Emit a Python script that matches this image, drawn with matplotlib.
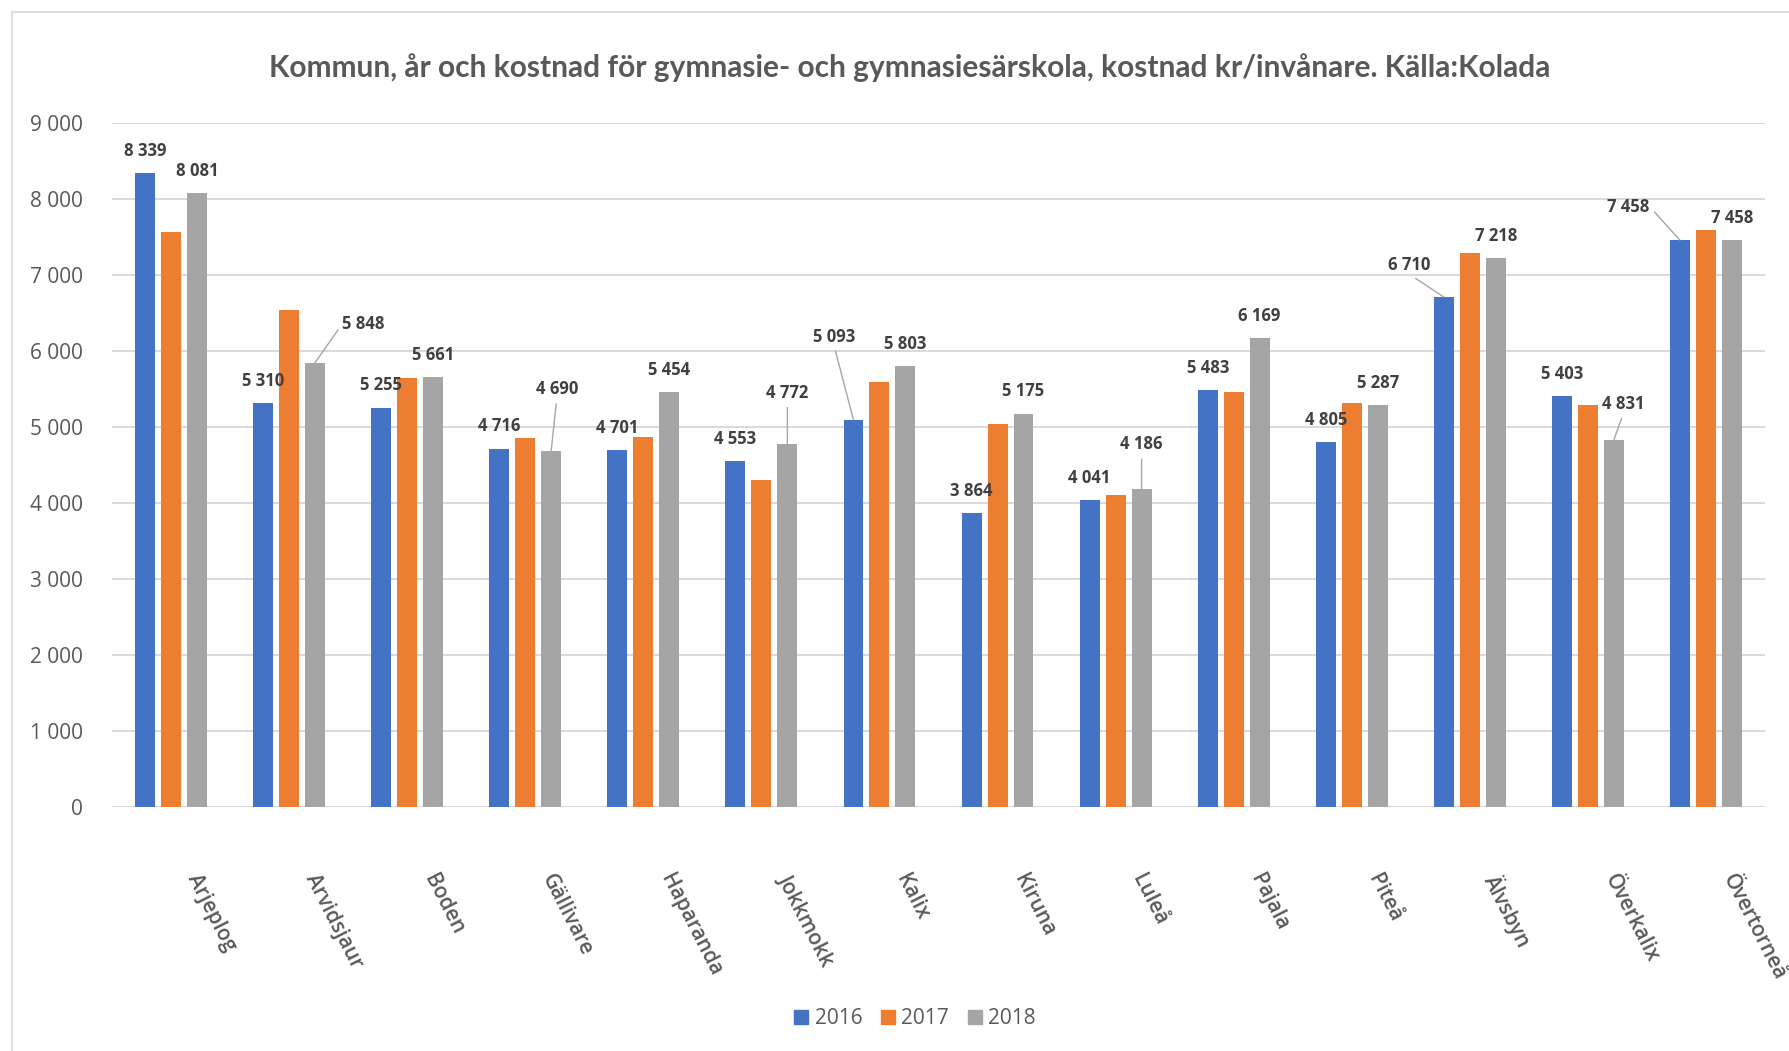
import matplotlib
matplotlib.use("Agg")
import matplotlib.pyplot as plt
from matplotlib.patches import Patch
from matplotlib.lines import Line2D
from matplotlib.transforms import ScaledTranslation
import numpy as np

# data
kommuner = ["Arjeplog", "Arvidsjaur", "Boden", "Gällivare", "Haparanda", "Jokkmokk", "Kalix",
            "Kiruna", "Luleå", "Pajala", "Piteå", "Älvsbyn", "Överkalix", "Övertorneå"]
ar = ["2016", "2017", "2018"]
kostnad_2016 = [8339, 5310, 5255, 4716, 4701, 4553, 5093, 3864, 4041, 5483, 4805, 6710, 5403, 7458]
kostnad_2017 = [7570, 6540, 5650, 4860, 4870, 4300, 5590, 5040, 4110, 5460, 5310, 7290, 5290, 7590]
kostnad_2018 = [8081, 5848, 5661, 4690, 5454, 4772, 5803, 5175, 4186, 6169, 5287, 7218, 4831, 7458]
yticks = [0, 1000, 2000, 3000, 4000, 5000, 6000, 7000, 8000, 9000]

farger = ["#4472C4", "#ED7D31", "#A5A5A5"]
serier = [kostnad_2016, kostnad_2017, kostnad_2018]

# labels moved off the bar, with a leader line: (serie, index) -> (dx pt, dy pt, relpos)
flyttade = {
    (2, 1): (35, 28, (0, 0.5)),
    (2, 3): (4, 44, (0.5, 0)),
    (2, 5): (0, 37, (0.5, 0)),
    (0, 6): (-14, 60, (0.5, 0)),
    (2, 8): (0, 32, (0.5, 0)),
    (0, 11): (-25, 23, (0.5, 0)),
    (2, 12): (7, 26, (0.5, 0)),
    (0, 13): (-37, 24, (1, 0.5)),
}


def fmt(v):
    return f"{v:,}".replace(",", " ")


fig = plt.figure(figsize=(17.9, 10.51), dpi=100)
ax = fig.add_axes([112 / 1790, 1 - 807 / 1051, (1765 - 112) / 1790, (807 - 123) / 1051])

x = np.arange(len(kommuner))
steg = 0.22
bredd = 0.169
for k, (vals, farg) in enumerate(zip(serier, farger)):
    pos = x + (k - 1) * steg
    ax.bar(pos, vals, width=bredd, color=farg, label=ar[k], zorder=2)
    if k == 1:
        continue  # 2017 has no data labels
    for i, v in enumerate(vals):
        if (k, i) in flyttade:
            dx, dy, rp = flyttade[(k, i)]
            ax.annotate(fmt(v), xy=(pos[i], v), xytext=(dx, dy), textcoords="offset points",
                        ha="center", va="center", fontsize=12, fontweight="bold",
                        family="Open Sans", color="#404040",
                        arrowprops=dict(arrowstyle="-", color="#a6a6a6", lw=1,
                                        shrinkA=2, shrinkB=0, relpos=rp))
        else:
            ax.annotate(fmt(v), xy=(pos[i], v), xytext=(0, 16), textcoords="offset points",
                        ha="center", va="center", fontsize=12, fontweight="bold",
                        family="Open Sans", color="#404040")

ax.set_xlim(-0.5, len(kommuner) - 0.5)
ax.set_ylim(0, 9000)
ax.set_yticks(yticks)
ax.set_yticklabels([fmt(t) for t in yticks], fontsize=15, family="Open Sans", color="#595959")
ax.tick_params(axis="y", length=0, pad=21)
ax.set_xticks(x)
ax.set_xticklabels(kommuner, rotation=-63, ha="left", va="top", rotation_mode="anchor",
                   fontsize=15, family="Open Sans", fontweight="semibold", color="#595959")
ax.tick_params(axis="x", length=0, pad=46)
for lab in ax.get_xticklabels():
    lab.set_transform(lab.get_transform() + ScaledTranslation(0.31, 0, fig.dpi_scale_trans))

ax.grid(axis="y", color="#d9d9d9", lw=1.4)
ax.set_axisbelow(True)
for s in ax.spines.values():
    s.set_visible(False)

fig.text(910 / 1790, 1 - 68 / 1051,
         "Kommun, år och kostnad för gymnasie- och gymnasiesärskola, kostnad kr/invånare. Källa:Kolada",
         ha="center", va="center", fontsize=21.5, fontweight="bold", family="Lato", color="#595959")

handles = [Patch(color=c, label=a) for c, a in zip(farger, ar)]
fig.legend(handles=handles, loc="center", bbox_to_anchor=(915 / 1790, 1 - 1019 / 1051), ncol=3,
           frameon=False, prop={"family": "Open Sans", "size": 15}, labelcolor="#595959",
           handlelength=0.67, handleheight=0.67, handletextpad=0.3, columnspacing=0.9)

# chart border (left and top visible)
fig.add_artist(Line2D([12 / 1790, 12 / 1790], [0, 1 - 12 / 1051], color="#d9d9d9", lw=1.2))
fig.add_artist(Line2D([12 / 1790, 1], [1 - 12 / 1051, 1 - 12 / 1051], color="#d9d9d9", lw=1.2))

fig.savefig("out.png", dpi=100)
